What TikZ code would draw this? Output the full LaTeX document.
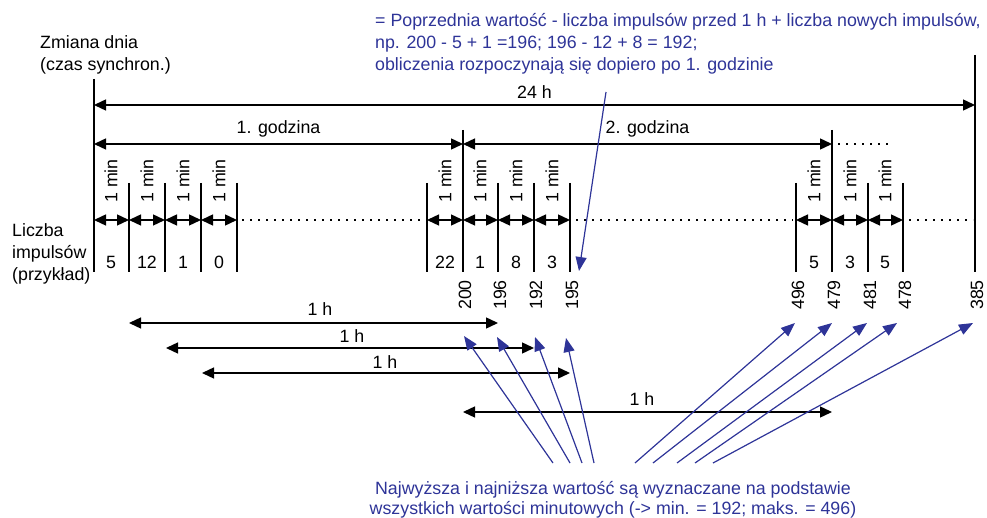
\documentclass[tikz,border=0pt]{standalone}
\usepackage{fontspec}
\setmainfont{Liberation Sans}
\usetikzlibrary{arrows.meta}
\definecolor{bl}{RGB}{46,52,152}
\begin{document}
\begin{tikzpicture}[x=1pt,y=-1pt,
  ln/.style={line width=1.4pt},
  dim/.style={line width=1.4pt,{Triangle[length=12pt,width=11pt]}-{Triangle[length=12pt,width=11pt]}},
  dots/.style={line width=1.8pt, dash pattern=on 1.8pt off 6.2pt},
  ptr/.style={bl,line width=1.2pt,-{Triangle[length=14pt,width=11pt]}},
  lbl/.style={inner sep=0pt, font=\fontsize{17.8}{22}\selectfont},
  minl/.style={lbl, rotate=90},
  vall/.style={lbl, rotate=90},
  btxt/.style={lbl, text=bl}
]
\useasboundingbox (0,0) rectangle (987,518);

% coordinates of the vertical lines
\foreach \x in {94,129,165,201,237,427,463,498,534,570,796,832,868,903,975}{
  \coordinate (b\x) at (\x,272);
  \coordinate (m\x) at (\x,220);
}
\foreach \x in {129,165,201,237,427,498,534,570,796,868,903}{
  \coordinate (t\x) at (\x,183);
}
\coordinate (t94) at (94,79);
\coordinate (t975) at (975,55);
\coordinate (t463) at (463,130);
\coordinate (t832) at (832,130);

\foreach \x in {94,129,165,201,237,427,463,498,534,570,796,832,868,903,975}{
  \draw[ln] (t\x) -- (b\x);
}

% 24 h and hours
\coordinate (d24a) at (94,105);
\coordinate (d24b) at (975,105);
\draw[dim] (d24a) -- node[lbl, above=6pt] {24 h} (d24b);
\coordinate (h1a) at (94,144);
\coordinate (h1b) at (463,144);
\coordinate (h2b) at (832,144);
\coordinate (h3a) at (838,144);
\coordinate (h3b) at (888,144);
\draw[dim] (h1a) -- node[lbl, above=6pt] {1. godzina} (h1b);
\draw[dim] (h1b) -- node[lbl, above=6pt] {2. godzina} (h2b);
\draw[dots] (h3a) -- (h3b);

% minute arrows
\foreach \a/\b in {94/129,129/165,165/201,201/237,427/463,463/498,498/534,534/570,796/832,832/868,868/903}{
  \draw[dim] (m\a) -- (m\b);
}
\coordinate (dl1a) at (242,220);
\coordinate (dl1b) at (424,220);
\coordinate (dl2a) at (576,220);
\coordinate (dl2b) at (793,220);
\coordinate (dl3a) at (909,220);
\coordinate (dl3b) at (973,220);
\draw[dots] (dl1a) -- (dl1b);
\draw[dots] (dl2a) -- (dl2b);
\draw[dots] (dl3a) -- (dl3b);

% 1 min labels
\foreach \x in {111,147,183,219,445,480,516,552,814,850,885}{
  \node[minl] (mn\x) at (\x,181) {1 min};
}
% counts
\foreach \x/\v in {111/5,147/12,183/1,219/0,445/22,480/1,516/8,552/3,814/5,850/3,885/5}{
  \node[lbl] (c\x) at (\x,262) {\v};
}
% values
\foreach \x/\v in {465/200,500/196,536/192,572/195,798/496,834/479,870/481,905/478,977/385}{
  \node[vall] (v\x) at (\x,295) {\v};
}

% left texts
\node[lbl, anchor=west, align=left] (zm) at (40,55) {Zmiana dnia\\(czas synchron.)};
\node[lbl, anchor=west, align=left] (li) at (12,254) {Liczba\\impulsów\\(przykład)};

% 1 h arrows
\coordinate (a1a) at (129,323); \coordinate (a1b) at (498,323);
\coordinate (a2a) at (166,348); \coordinate (a2b) at (534,348);
\coordinate (a3a) at (202,373); \coordinate (a3b) at (570,373);
\coordinate (a4a) at (463,412); \coordinate (a4b) at (832,412);
\draw[dim] (a1a) -- (a1b);
\draw[dim] (a2a) -- (a2b);
\draw[dim] (a3a) -- (a3b);
\draw[dim] (a4a) -- (a4b);
\node[lbl] (l1) at (320,309) {1 h};
\node[lbl] (l2) at (352,336) {1 h};
\node[lbl] (l3) at (385,362) {1 h};
\node[lbl] (l4) at (642,399) {1 h};

% top blue text and arrow
\node[btxt, anchor=west, align=left] (top) at (375,44)
  {= Poprzednia wartość - liczba impulsów przed 1 h + liczba nowych impulsów,\\
   np. 200 - 5 + 1 =196; 196 - 12 + 8 = 192;\\
   obliczenia rozpoczynają się dopiero po 1. godzinie};
\coordinate (pa) at (606,92);
\coordinate (pb) at (579,271);
\draw[ptr] (pa) -- (pb);

% bottom blue text and arrows
\node[btxt, align=center, font=\fontsize{17.8}{20}\selectfont] (bot) at (613,500)
  {Najwyższa i najniższa wartość są wyznaczane na podstawie\\
   wszystkich wartości minutowych (-> min. = 192; maks. = 496)};
\foreach \s/\ex/\ey [count=\i] in {553/464/336,570/497/337,582/535/337,594/566/338,635/795/323,653/832/323,677/867/323,695/897/323,713/973/323}{
  \coordinate (ps\i) at (\s,463);
  \coordinate (pe\i) at (\ex,\ey);
  \draw[ptr] (ps\i) -- (pe\i);
}
\end{tikzpicture}
\end{document}
